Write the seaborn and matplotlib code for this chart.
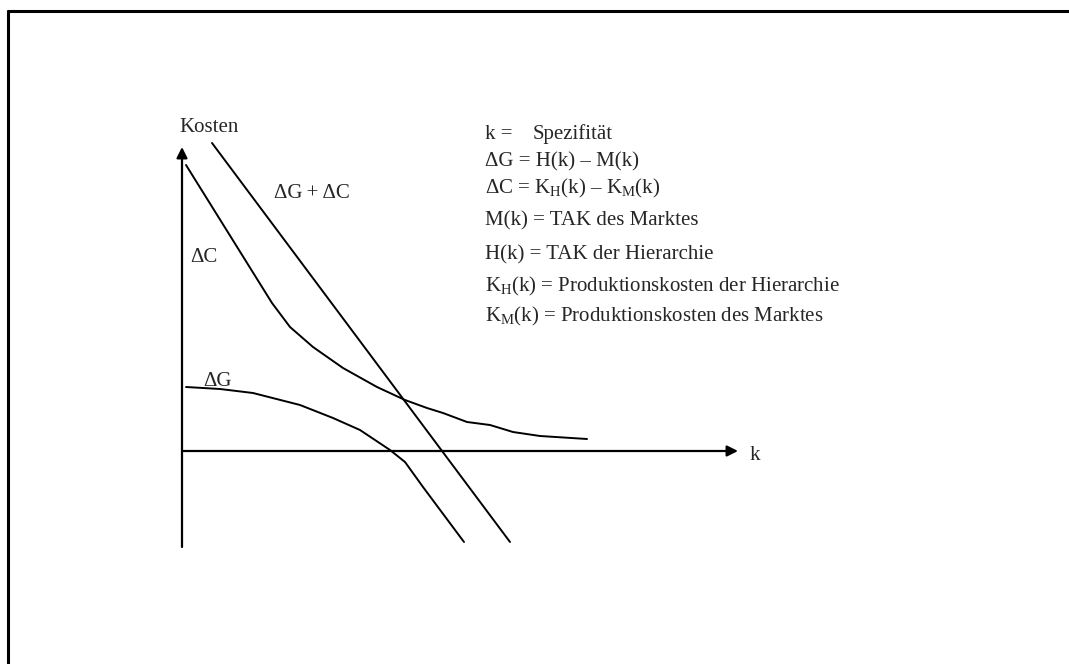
import matplotlib
matplotlib.use("Agg")
import numpy as np
import pandas as pd
import seaborn as sns
import matplotlib.pyplot as plt
from matplotlib.lines import Line2D

k_sum = [0.60, 6.56]
cost_sum = [6.16, -1.82]

k_dc = [0.08, 1.80, 2.16, 2.62, 3.22, 3.90, 4.46, 4.90, 5.22, 5.70, 6.16, 6.62, 7.16, 8.10]
cost_dc = [5.72, 2.96, 2.48, 2.08, 1.66, 1.28, 1.02, 0.86, 0.76, 0.58, 0.52, 0.38, 0.30, 0.24]

k_dg = [0.08, 0.76, 1.42, 2.36, 3.02, 3.56, 4.16, 4.46, 4.82, 5.64]
cost_dg = [1.28, 1.24, 1.16, 0.92, 0.66, 0.42, 0.02, -0.22, -0.72, -1.82]

legend_lines = [
    "ΔG = H(k) – M(k)",
    "ΔC = K$_{\\mathrm{H}}$(k) – K$_{\\mathrm{M}}$(k)",
    "M(k) = TAK des Marktes",
    "H(k) = TAK der Hierarchie",
    "K$_{\\mathrm{H}}$(k) = Produktionskosten der Hierarchie",
    "K$_{\\mathrm{M}}$(k) = Produktionskosten des Marktes",
]
legend_y = [5.70, 5.16, 4.52, 3.84, 3.20, 2.60]

sns.set_theme(style="white")
plt.rcParams["font.family"] = ["Liberation Serif", "DejaVu Serif"]
plt.rcParams["mathtext.fontset"] = "custom"
plt.rcParams["mathtext.rm"] = "Liberation Serif"
plt.rcParams["mathtext.it"] = "Liberation Serif:italic"

fig = plt.figure(figsize=(10.69, 6.64), dpi=100)
ax = fig.add_axes([0, 0, 1, 1])
ax.set_xlim(-3.64, 17.74)
ax.set_ylim(-4.26, 9.02)
ax.axis("off")

df = pd.concat([
    pd.DataFrame({"k": k_sum, "kosten": cost_sum, "kurve": "sum"}),
    pd.DataFrame({"k": k_dc, "kosten": cost_dc, "kurve": "dc"}),
    pd.DataFrame({"k": k_dg, "kosten": cost_dg, "kurve": "dg"}),
])
sns.lineplot(data=df, x="k", y="kosten", units="kurve", estimator=None, sort=False,
             color="black", lw=1.4, ax=ax, legend=False)

# Achsen mit Pfeilen
arrow = dict(arrowstyle="-|>", color="black", lw=1.6, mutation_scale=16, shrinkA=0, shrinkB=0)
ax.annotate("", xy=(0, 6.08), xytext=(0, -1.92), arrowprops=arrow)
ax.annotate("", xy=(11.12, 0), xytext=(0, 0), arrowprops=arrow)

fs = 15
ax.text(-0.06, 6.38, "Kosten", fontsize=fs, va="baseline")
ax.text(11.36, -0.18, "k", fontsize=fs, va="baseline")
ax.text(1.84, 5.06, "ΔG\u2009+\u2009ΔC", fontsize=fs, va="baseline")
ax.text(0.16, 3.78, "ΔC", fontsize=fs, va="baseline")
ax.text(0.42, 1.30, "ΔG", fontsize=fs, va="baseline")

ax.text(6.06, 6.24, "k =", fontsize=fs, va="baseline")
ax.text(7.02, 6.24, "Spezifität", fontsize=fs, va="baseline")
for txt, y in zip(legend_lines, legend_y):
    ax.text(6.06, y, txt, fontsize=fs, va="baseline")

# Rahmen oben und links
fig.add_artist(Line2D([7.5 / 1069, 1], [1 - 10.5 / 664, 1 - 10.5 / 664], color="black", lw=2.2,
                      transform=fig.transFigure))
fig.add_artist(Line2D([7.5 / 1069, 7.5 / 1069], [0, 1 - 10.5 / 664], color="black", lw=2.2,
                      transform=fig.transFigure))

fig.savefig("out.png", dpi=100)
